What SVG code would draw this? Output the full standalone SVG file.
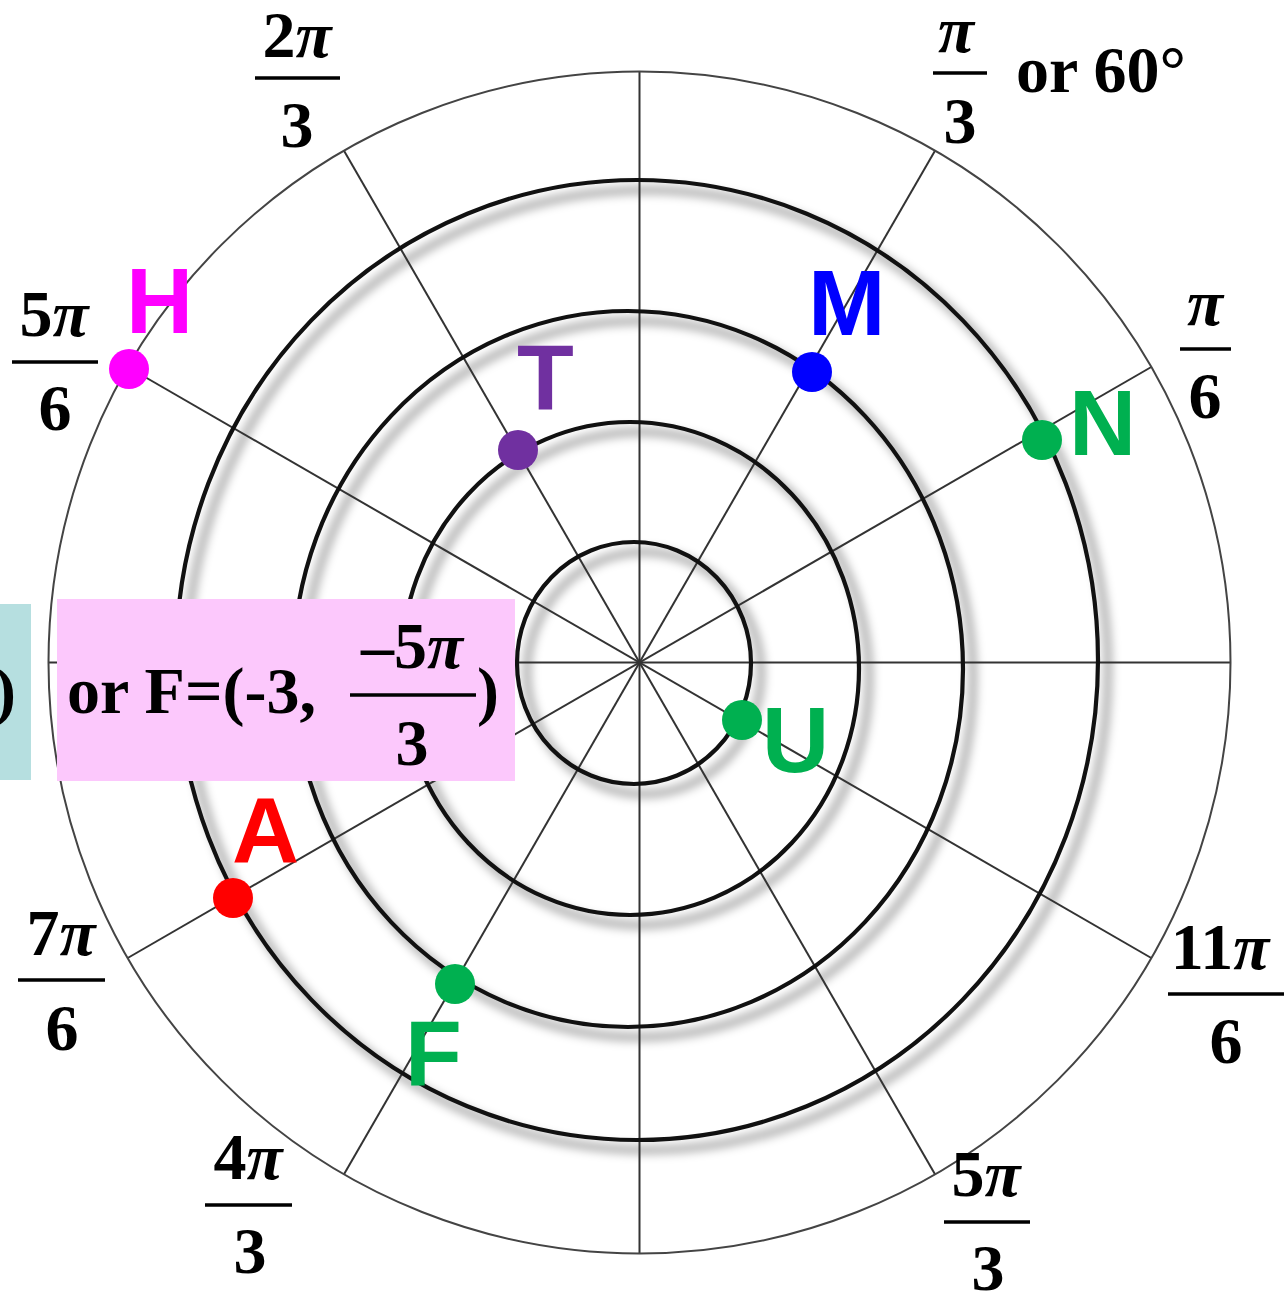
<svg xmlns="http://www.w3.org/2000/svg" width="1285" height="1295" viewBox="0 0 1285 1295">
<style>
.ring{fill:none;stroke:#111;stroke-width:4.2}
.shadow{fill:none;stroke:#000;stroke-width:10;opacity:0.26}
.spoke{stroke:#333;stroke-width:2;fill:none}
.outer{fill:none;stroke:#444;stroke-width:2}
.frac{font-family:"Liberation Serif","Times New Roman",serif;font-weight:bold;font-size:66px;fill:#000;text-anchor:middle}
.txt{font-family:"Liberation Serif","Times New Roman",serif;font-weight:bold;font-size:66px;fill:#000}
.bar{stroke:#000;stroke-width:3.5}
.pi{font-style:italic}
.lbl{font-family:"Liberation Sans",Arial,sans-serif;font-weight:bold;font-size:93px}
</style>
<defs>
<filter id="blur" x="-20%" y="-20%" width="140%" height="140%">
<feGaussianBlur stdDeviation="4"/>
</filter>
</defs>
<rect width="1285" height="1295" fill="#fff"/>
<g id="grid">
<g id="ring-shadows" filter="url(#blur)" transform="translate(10,10)">
<ellipse class="shadow" cx="634" cy="663" rx="117" ry="121"/>
<ellipse class="shadow" cx="630" cy="668.5" rx="229" ry="246.5"/>
<ellipse class="shadow" cx="628" cy="669" rx="335" ry="358"/>
<ellipse class="shadow" cx="637" cy="660" rx="461" ry="480"/>
</g>
<g id="spokes">
<line class="spoke" x1="48.5" y1="662.5" x2="1230.5" y2="662.5"/>
<line class="spoke" x1="639.5" y1="71.5" x2="639.5" y2="1253.5"/>
<line class="spoke" x1="127.7" y1="958" x2="1151.3" y2="367"/>
<line class="spoke" x1="344" y1="1174.3" x2="935" y2="150.7"/>
<line class="spoke" x1="344" y1="150.7" x2="935" y2="1174.3"/>
<line class="spoke" x1="127.7" y1="367" x2="1151.3" y2="958"/>
</g>
<circle class="outer" cx="639.5" cy="662.5" r="591"/>
<g id="rings">
<ellipse class="ring" cx="634" cy="663" rx="117" ry="121"/>
<ellipse class="ring" cx="630" cy="668.5" rx="229" ry="246.5"/>
<ellipse class="ring" cx="628" cy="669" rx="335" ry="358"/>
<ellipse class="ring" cx="637" cy="660" rx="461" ry="480"/>
</g>
</g>
<g id="angle-labels">
<g id="lbl-2pi3"><text class="frac" x="297" y="57">2<tspan class="pi">π</tspan></text><line class="bar" x1="255" y1="78" x2="340" y2="78"/><text class="frac" x="297" y="147">3</text></g>
<g id="lbl-pi3"><text class="frac" x="956" y="52"><tspan class="pi">π</tspan></text><line class="bar" x1="933" y1="73" x2="987" y2="73"/><text class="frac" x="960" y="143">3</text><text class="txt" x="1016" y="92">or 60°</text></g>
<g id="lbl-pi6"><text class="frac" x="1205" y="325"><tspan class="pi">π</tspan></text><line class="bar" x1="1180" y1="349" x2="1231" y2="349"/><text class="frac" x="1205" y="418">6</text></g>
<g id="lbl-5pi6"><text class="frac" x="54" y="336">5<tspan class="pi">π</tspan></text><line class="bar" x1="12" y1="362" x2="98" y2="362"/><text class="frac" x="55" y="430">6</text></g>
<g id="lbl-7pi6"><text class="frac" x="61" y="955">7<tspan class="pi">π</tspan></text><line class="bar" x1="18" y1="980" x2="105" y2="980"/><text class="frac" x="62" y="1050">6</text></g>
<g id="lbl-4pi3"><text class="frac" x="248" y="1179">4<tspan class="pi">π</tspan></text><line class="bar" x1="205" y1="1205" x2="292" y2="1205"/><text class="frac" x="250" y="1273">3</text></g>
<g id="lbl-5pi3"><text class="frac" x="986" y="1196">5<tspan class="pi">π</tspan></text><line class="bar" x1="944" y1="1222" x2="1030" y2="1222"/><text class="frac" x="988" y="1290">3</text></g>
<g id="lbl-11pi6"><text class="frac" x="1220" y="969">11<tspan class="pi">π</tspan></text><line class="bar" x1="1168" y1="994" x2="1284" y2="994"/><text class="frac" x="1226" y="1063">6</text></g>
</g>
<g id="point-H"><circle cx="129" cy="369" r="20" fill="#ff00ff"/><text class="lbl" x="126" y="333" fill="#ff00ff">H</text></g>
<g id="point-T"><circle cx="518" cy="450" r="20" fill="#7030a0"/><text class="lbl" x="517" y="410" fill="#7030a0">T</text></g>
<g id="point-M"><circle cx="812" cy="372" r="20" fill="#0000ff"/><text class="lbl" x="808" y="335" fill="#0000ff">M</text></g>
<g id="point-N"><circle cx="1042" cy="440" r="20" fill="#00b050"/><text class="lbl" x="1069" y="455" fill="#00b050">N</text></g>
<g id="point-U"><circle cx="742" cy="720" r="20" fill="#00b050"/><text class="lbl" x="762" y="772" fill="#00b050">U</text></g>
<g id="point-A"><circle cx="233" cy="898" r="20" fill="#ff0000"/><text class="lbl" x="232" y="862" fill="#ff0000">A</text></g>
<g id="point-F"><circle cx="455" cy="984" r="20" fill="#00b050"/><text class="lbl" x="405" y="1085" fill="#00b050">F</text></g>
<g id="box-teal"><rect x="0" y="604" width="31" height="176" fill="#b6dfe0"/><text class="txt" x="-6" y="713">)</text></g>
<g id="box-pink"><rect x="57" y="599" width="458" height="182" fill="#fcc8fc"/>
<text class="txt" x="67" y="713">or F=(-3,</text>
<text class="frac" x="412" y="668">–5<tspan class="pi">π</tspan></text>
<line class="bar" x1="350" y1="695" x2="476" y2="695"/>
<text class="frac" x="412" y="765">3</text>
<text class="txt" x="477" y="713">)</text>
</g>
</svg>
